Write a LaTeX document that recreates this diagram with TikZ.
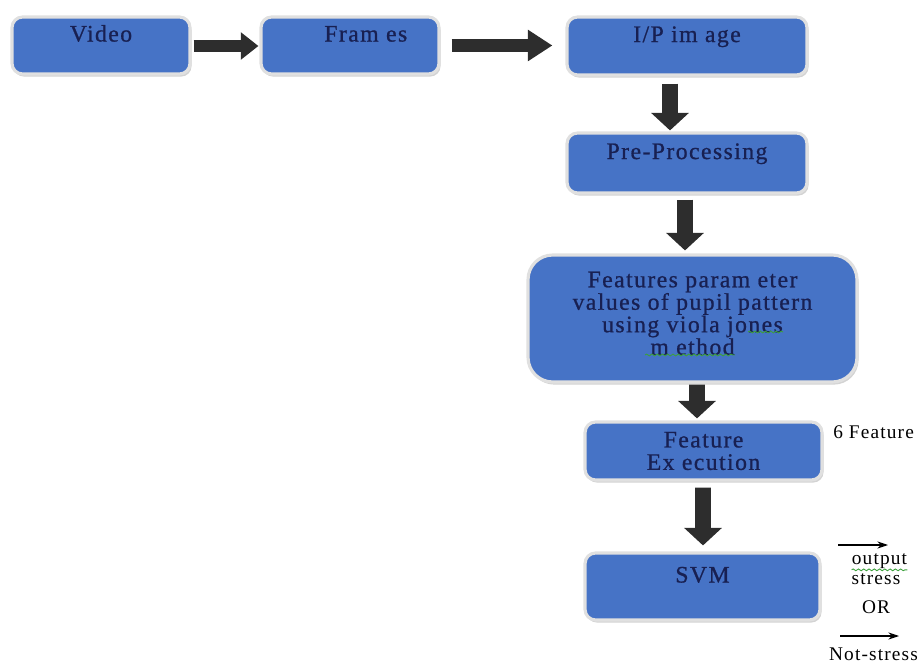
\documentclass[tikz,border=0pt]{standalone}
\usepackage{fontspec}
\setmainfont{Liberation Serif}
\newfontfamily\spacedserif[LetterSpace=6,FakeBold=0.8]{Liberation Serif}
\newfontfamily\sideserif[LetterSpace=6]{Liberation Serif}
\usetikzlibrary{arrows.meta,shadows,calc,decorations.pathmorphing}
\definecolor{boxblue}{RGB}{70,115,198}
\definecolor{boxtext}{RGB}{24,32,82}
\definecolor{arrowgray}{RGB}{45,45,45}
\definecolor{spellgreen}{RGB}{60,160,60}

\begin{document}
\begin{tikzpicture}[x=0.02cm, y=-0.02cm,
    box/.style={rectangle, rounded corners=6pt, draw=white!88!black, line width=1.8pt,
        fill=boxblue, text=boxtext, align=center, inner sep=0pt,
        font=\spacedserif\fontsize{13.5}{12.8}\selectfont,
        drop shadow={shadow xshift=0.9pt, shadow yshift=-1.5pt, opacity=0.35}},
    toptext/.style={text height=9.5pt, text depth=14pt},
    flatarrow/.style={draw=arrowgray, line width=7pt, -{Triangle[width=15pt,length=10pt]}},
    longflatarrow/.style={draw=arrowgray, line width=7pt, -{Triangle[width=17pt,length=14pt]}},
    downarrow/.style={draw=arrowgray, line width=9pt, -{Triangle[width=21pt,length=10pt]}},
    thinarrow/.style={draw=black, line width=0.7pt, -{Stealth[length=6pt,width=4pt]}},
    side/.style={font=\sideserif\fontsize{11}{12}\selectfont, text=black, inner sep=0pt},
    squiggle/.style={draw=spellgreen, line width=0.5pt,
        decorate, decoration={snake, amplitude=0.5pt, segment length=3pt}}]

    \useasboundingbox (0,0) rectangle (923,665);

    % The boxes of the chain
    \node[box, toptext, minimum width=3.56cm, minimum height=1.14cm] (video) at (101,45.5) {Video};
    \node[box, toptext, minimum width=3.56cm, minimum height=1.14cm] (frames) at (350,45.5) {\hspace{18pt}Fram es};
    \node[box, toptext, minimum width=4.8cm, minimum height=1.16cm] (ipimg) at (687,46) {I/P im age};
    \node[box, toptext, minimum width=4.8cm, minimum height=1.2cm] (preproc) at (687,163) {Pre-Processing};
    \node[box, rounded corners=14pt, minimum width=6.58cm, minimum height=2.54cm] (features) at (692.5,318.5)
        {Features param eter\\values of pupil pattern\\using viola jones\\m ethod\\[-6.8pt]\mbox{}};
    \node[box, minimum width=4.74cm, minimum height=1.16cm] (featexec) at (703.5,451) {Feature\\Ex ecution};
    \node[box, toptext, minimum width=4.7cm, minimum height=1.34cm] (svm) at (702.5,586.5) {SVM};

    % Texts on the right
    \node[side, anchor=west] (sixfeat) at (833,432) {6 Feature};
    \node[side] (output) at (879.5,561) {output};
    \node[side] (stress) at (876,579) {stress};
    \node[side] (orword) at (876,607) {OR};
    \node[side] (notstress) at (873.5,654) {Not-stress};
    \coordinate (outtail) at (838,545);
    \coordinate (outhead) at (888,545);
    \coordinate (nottail) at (840,636);
    \coordinate (nothead) at (899,636);

    % Arrows between the boxes
    \draw[flatarrow] ($(video.east)+(2,0.5)$) -- ($(frames.west)+(-1,0.5)$);
    \draw[longflatarrow] ($(frames.east)+(11,0)$) -- ($(frames.east -| ipimg.west)+(-13,0)$);
    \draw[downarrow] ($(ipimg.south)+(-17,7)$) -- ($(preproc.north)+(-17,-1)$);
    \draw[downarrow] ($(preproc.south)+(-2,5)$) -- ($(features.north)+(-7.5,-3)$);
    \draw[downarrow] ($(features.south)+(4.5,1)$) -- ($(featexec.north)+(-6.5,-2)$);
    \draw[downarrow] ($(featexec.south)+(-0.5,6)$) -- ($(svm.north)+(0.5,-6)$);

    % Small arrows of the result
    \draw[thinarrow] (outtail) -- (outhead);
    \draw[thinarrow] (nottail) -- (nothead);

    % Spelling marks under some words
    \draw[squiggle] ($(output.south west)+(0,1)$) -- ($(output.south east)+(0,1)$);
    \draw[squiggle] ($(features.center)+(55.5,13.5)$) -- ($(features.center)+(90.5,13.5)$);
    \draw[squiggle] ($(features.center)+(-47.5,36.5)$) -- ($(features.center)+(42.5,36.5)$);
\end{tikzpicture}
\end{document}
